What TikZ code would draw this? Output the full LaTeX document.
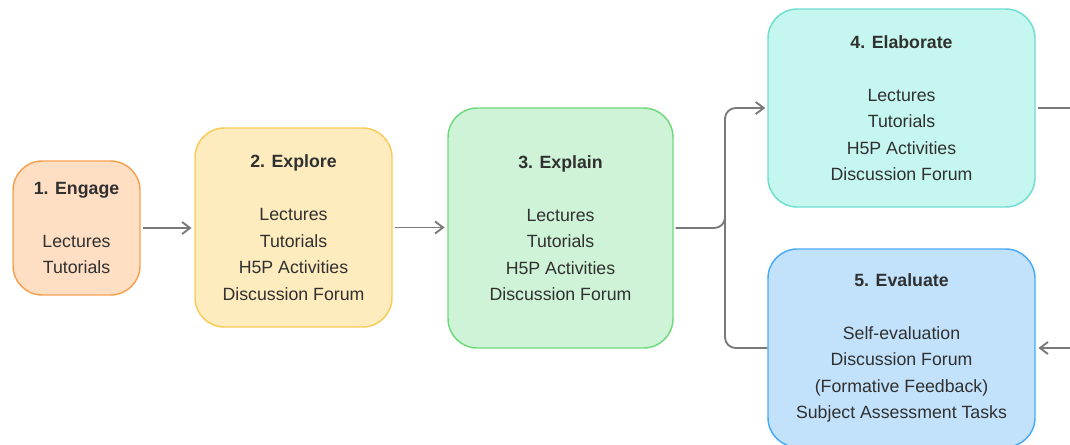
\documentclass[tikz,border=0pt]{standalone}
\usepackage{fontspec}
\setmainfont{Liberation Sans}
\usetikzlibrary{arrows.meta,calc}

\definecolor{textgray}{HTML}{303030}
\definecolor{linegray}{HTML}{7A7A7A}
\definecolor{engagefill}{HTML}{FFDFC4}
\definecolor{engageline}{HTML}{F5A250}
\definecolor{explorefill}{HTML}{FEECBE}
\definecolor{exploreline}{HTML}{F9CB57}
\definecolor{explainfill}{HTML}{CEF3D6}
\definecolor{explainline}{HTML}{6ED87D}
\definecolor{elaboratefill}{HTML}{C5F6F0}
\definecolor{elaborateline}{HTML}{6FDDCF}
\definecolor{evaluatefill}{HTML}{C2E2FC}
\definecolor{evaluateline}{HTML}{4AAAF5}

\tikzstyle{stage}=[draw, rounded corners=22pt, line width=1.1pt, align=center, text=textgray, font=\fontsize{13.3}{19.9}\selectfont]
\tikzstyle{plain}=[draw=linegray, line width=1.4pt]
\tikzstyle{flow}=[plain, -{Straight Barb[length=6pt,width=9pt]}]
\newcommand{\stagetitle}[1]{\textbf{#1}\\[19.9pt]}

\begin{document}
\begin{tikzpicture}[x=0.75pt,y=-0.75pt]
	\useasboundingbox (0,0) rectangle (1070,444);
	% the five stages
	\node[stage, fill=engagefill, draw=engageline, minimum width=95.25pt, minimum height=100.5pt] (engage) at (76.5,228)
		{\stagetitle{1. Engage}Lectures\\Tutorials};
	\node[stage, fill=explorefill, draw=exploreline, minimum width=147.75pt, minimum height=149.25pt] (explore) at (293.5,227.5)
		{\stagetitle{2. Explore}Lectures\\Tutorials\\H5P Activities\\Discussion Forum};
	\node[stage, fill=explainfill, draw=explainline, minimum width=168.75pt, minimum height=180pt] (explain) at (560.5,228)
		{\stagetitle{3. Explain}Lectures\\Tutorials\\H5P Activities\\Discussion Forum};
	\node[stage, fill=elaboratefill, draw=elaborateline, minimum width=200.25pt, minimum height=148.5pt] (elaborate) at (901.5,108)
		{\stagetitle{4. Elaborate}Lectures\\Tutorials\\H5P Activities\\Discussion Forum};
	\node[stage, fill=evaluatefill, draw=evaluateline, minimum width=200.25pt, minimum height=148.5pt] (evaluate) at (901.5,348)
		{\stagetitle{5. Evaluate}Self-evaluation\\Discussion Forum\\(Formative Feedback)\\Subject Assessment Tasks};

	% connectors
	\coordinate (split) at (725,228);
	\coordinate (toright) at (1070,108);
	\coordinate (fromright) at (1070,348);
	\draw[flow, shorten <=1.5pt, shorten >=2pt] (engage.east) -- (engage.east -| explore.west);
	\draw[flow, shorten <=1.5pt, shorten >=2pt] (explore.east) -- (explore.east -| explain.west);
	\draw[flow, rounded corners=8pt, shorten <=1.5pt, shorten >=1.5pt] (explain.east) -- (split) |- (elaborate.west);
	\draw[plain, rounded corners=8pt] ($(split)+(0,-12)$) |- (evaluate.west);
	\draw[plain, shorten <=1.5pt] (elaborate.east) -- (toright); %off to the right
	\draw[flow, shorten >=2pt] (fromright) -- (evaluate.east); %back in
\end{tikzpicture}
\end{document}
